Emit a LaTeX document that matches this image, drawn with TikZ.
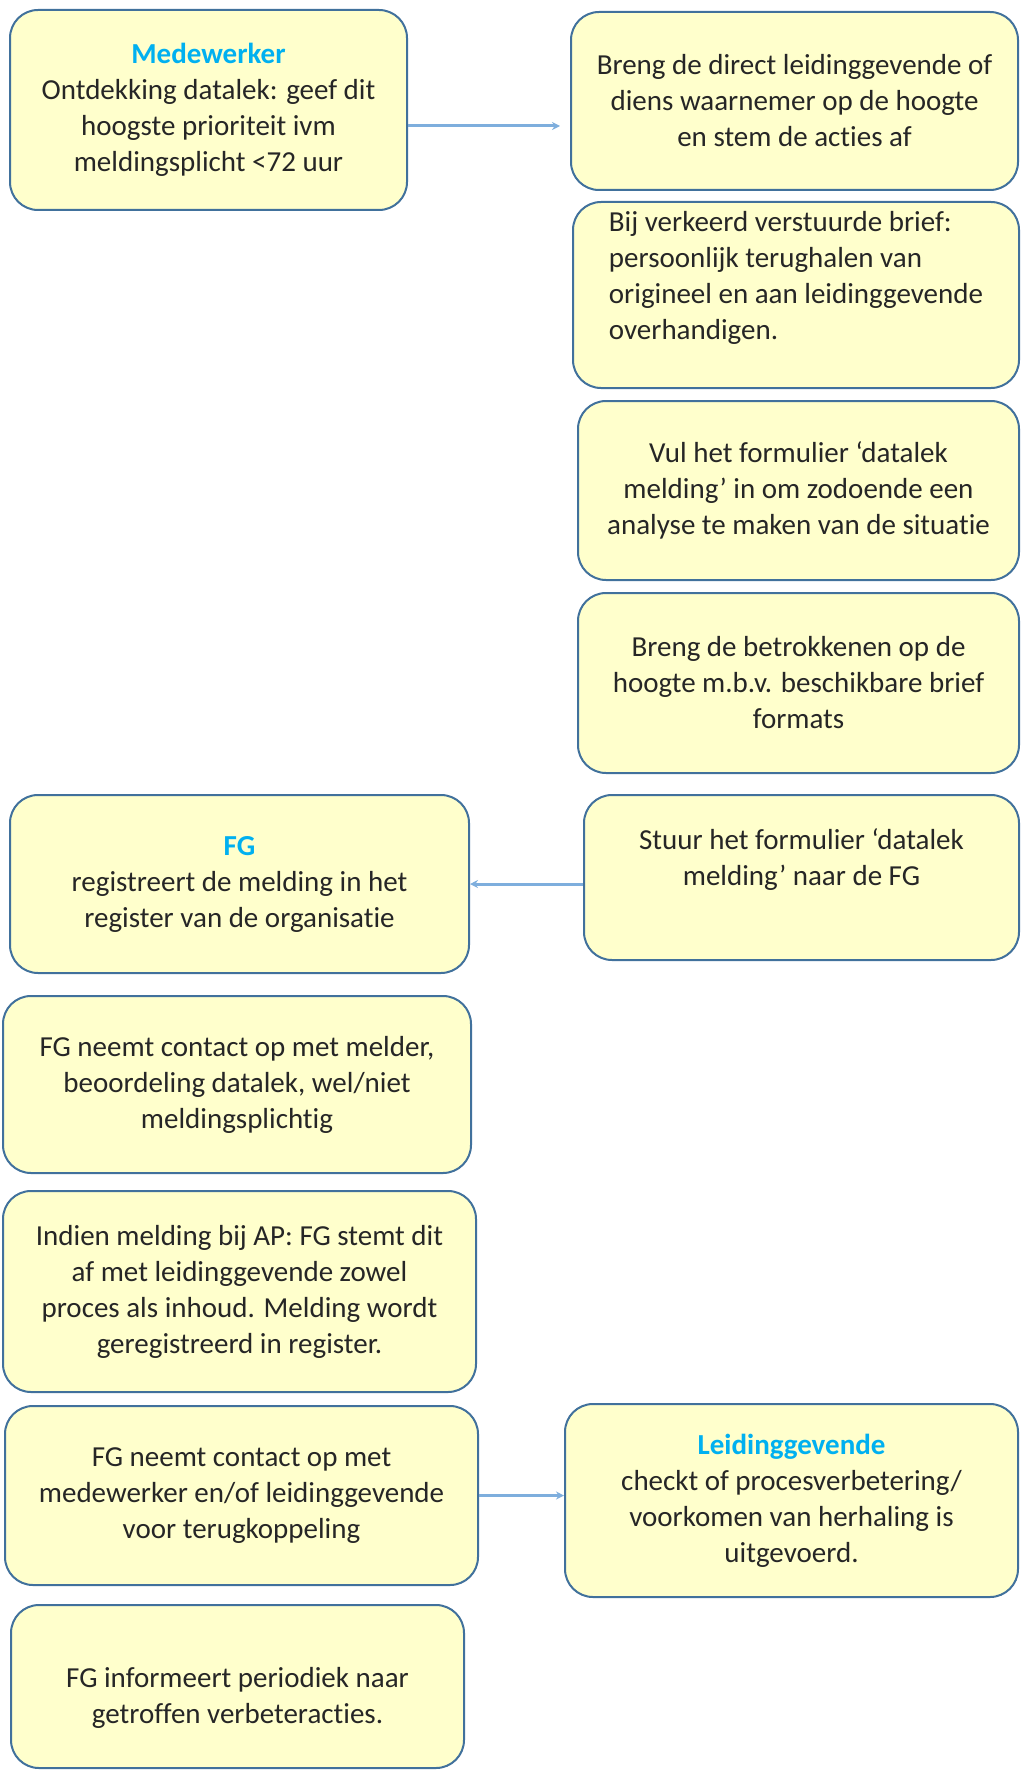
\documentclass[tikz,border=0pt]{standalone}
\usepackage{fontspec}
\setmainfont{Carlito}[Ligatures={NoCommon}]
\usetikzlibrary{arrows.meta}
\definecolor{blokrand}{RGB}{65,113,156}
\definecolor{blokvul}{RGB}{255,255,204}
\definecolor{kopblauw}{RGB}{0,176,240}
\definecolor{pijlblauw}{RGB}{126,174,221}
\tikzset{blok/.style={draw=blokrand,fill=blokvul,line width=2pt,rounded corners=28pt,
    inner sep=0pt,align=center,text=black!85,font=\fontsize{29}{36}\selectfont},
  pijl/.style={-{Stealth[length=8pt,width=8pt]},draw=pijlblauw,line width=3pt}}

\begin{document}
\begin{tikzpicture}[x=1pt,y=-1pt]
  \path[use as bounding box] (0,0) rectangle (1020,1771);
  % rechterkolom
  \node[blok,minimum width=397,minimum height=200] (medewerker) at (208.5,110)
    {\textcolor{kopblauw}{\textbf{Medewerker}}\\Ontdekking datalek: geef dit\\hoogste prioriteit ivm\\meldingsplicht <72 uur};
  \node[blok,minimum width=447,minimum height=178] (leiding) at (794.5,101)
    {Breng de direct leidinggevende of\\diens waarnemer op de hoogte\\en stem de acties af};
  \node[blok,align=left,text depth=39pt,minimum width=446,minimum height=186] (brief) at (796,295)
    {Bij verkeerd verstuurde brief:\\persoonlijk terughalen van\\origineel en aan leidinggevende\\overhandigen.};
  \node[blok,minimum width=441,minimum height=179] (formulier) at (798.5,490.5)
    {Vul het formulier ‘datalek\\melding’ in om zodoende een\\analyse te maken van de situatie};
  \node[blok,minimum width=441,minimum height=180] (betrokkenen) at (798.5,683)
    {Breng de betrokkenen op de\\hoogte m.b.v. beschikbare brief\\formats};
  \node[blok,text depth=40pt,minimum width=435,minimum height=165] (stuur) at (801.5,877.5)
    {Stuur het formulier ‘datalek\\melding’ naar de FG};
  % linkerkolom FG
  \node[blok,minimum width=459,minimum height=178] (fg) at (239.5,884)
    {\textcolor{kopblauw}{\textbf{FG}}\\registreert de melding in het\\register van de organisatie};
  \node[blok,minimum width=468,minimum height=177] (melder) at (237,1084.5)
    {FG neemt contact op met melder,\\beoordeling datalek, wel/niet\\meldingsplichtig};
  \node[blok,minimum width=473,minimum height=201] (ap) at (239.5,1291.5)
    {Indien melding bij AP: FG stemt dit\\af met leidinggevende zowel\\proces als inhoud. Melding wordt\\geregistreerd in register.};
  \node[blok,minimum width=473,minimum height=179] (terug) at (241.5,1495.5)
    {FG neemt contact op met\\medewerker en/of leidinggevende\\voor terugkoppeling};
  \node[blok,minimum width=453,minimum height=193] (check) at (791.5,1500.5)
    {\textcolor{kopblauw}{\textbf{Leidinggevende}}\\checkt of procesverbetering/\\voorkomen van herhaling is\\uitgevoerd.};
  \node[blok,text height=78pt,minimum width=453,minimum height=163] (periodiek) at (237.5,1686.5)
    {FG informeert periodiek naar\\getroffen verbeteracties.};
  % verbindingen
  \draw[pijl,shorten >=10pt] ([yshift=-16pt]medewerker.east) -- ([yshift=-16pt]medewerker.east -| leiding.west);
  \draw[pijl] (fg.east -| stuur.west) -- (fg.east);
  \draw[pijl] (terug.east) -- (terug.east -| check.west);
\end{tikzpicture}
\end{document}
